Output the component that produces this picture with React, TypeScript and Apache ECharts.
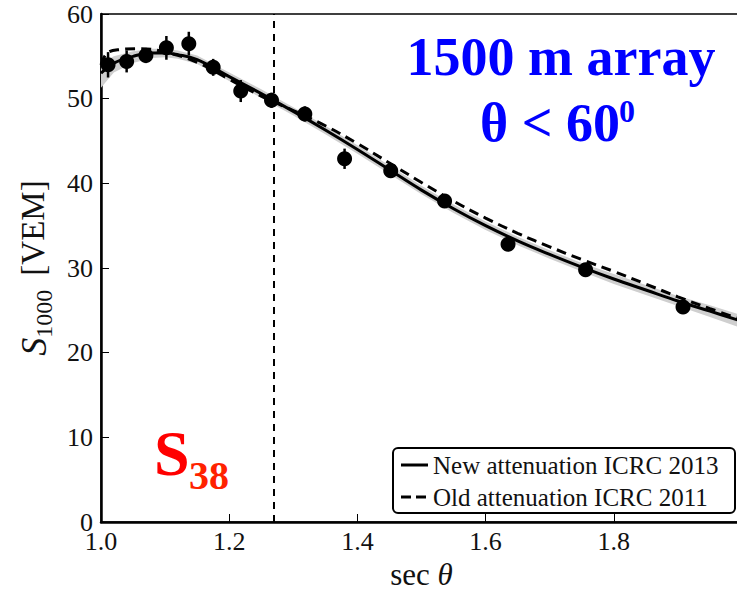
import React, { useEffect, useRef } from "react";
import * as echarts from "echarts";

// Measured points: sec(theta) vs S1000 [VEM]
const secTheta = [1.011, 1.040, 1.070, 1.102, 1.137, 1.175, 1.218, 1.266, 1.318, 1.380, 1.452, 1.536, 1.635, 1.756, 1.908];
const s1000 = [54.0, 54.4, 55.1, 56.0, 56.5, 53.7, 50.9, 49.8, 48.2, 42.9, 41.5, 37.9, 32.8, 29.8, 25.4];
const s1000Err = [1.5, 1.3, 0.9, 1.4, 1.4, 1.0, 1.3, 0.9, 0.9, 1.2, 0.7, 0.6, 0.6, 0.6, 0.6];

// New attenuation fit (ICRC 2013) with its uncertainty band
const newFitX = [1.00, 1.02, 1.05, 1.08, 1.10, 1.12, 1.15, 1.20, 1.25, 1.30, 1.35, 1.40, 1.45, 1.50, 1.55, 1.60, 1.65, 1.70, 1.75, 1.80, 1.85, 1.90, 1.95, 2.00];
const newFitY = [53.0, 54.2, 55.0, 55.4, 55.4, 55.2, 54.6, 52.6, 50.6, 48.5, 46.3, 44.0, 41.6, 39.2, 37.0, 35.0, 33.2, 31.6, 30.1, 28.7, 27.4, 26.1, 24.9, 23.7];
const bandLow = [51.3, 53.1, 54.2, 54.8, 54.9, 54.7, 54.1, 52.1, 50.1, 48.0, 45.8, 43.5, 41.1, 38.7, 36.5, 34.5, 32.7, 31.1, 29.6, 28.1, 26.8, 25.5, 24.2, 22.9];
const bandHigh = [54.2, 55.0, 55.6, 55.9, 55.9, 55.7, 55.1, 53.1, 51.1, 49.0, 46.8, 44.5, 42.1, 39.7, 37.5, 35.5, 33.7, 32.1, 30.6, 29.3, 28.0, 26.7, 25.6, 24.4];

// Old attenuation fit (ICRC 2011)
const oldFitX = [1.00, 1.01, 1.03, 1.06, 1.10, 1.15, 1.20, 1.25, 1.30, 1.35, 1.40, 1.45, 1.50, 1.55, 1.60, 1.65, 1.70, 1.75, 1.80, 1.85, 1.90, 1.95, 2.00];
const oldFitY = [54.0, 55.4, 55.8, 55.9, 55.5, 54.3, 52.3, 50.3, 48.6, 46.8, 44.7, 42.4, 40.1, 37.9, 35.9, 34.1, 32.5, 31.0, 29.6, 28.1, 26.6, 25.2, 23.9];

// Reference sec(theta) for S38
const refSecTheta = 1.269;

const legendNames = ["New attenuation ICRC 2013", "Old attenuation ICRC 2011"];

const SERIF = "'Liberation Serif', 'Times New Roman', serif";

export default function App() {
  const ref = useRef<HTMLDivElement>(null);
  useEffect(() => {
    if (!ref.current) return;
    const chart = echarts.init(ref.current, null, { renderer: "svg" });
    const zip = (xs: number[], ys: number[]) => xs.map((x, i) => [x, ys[i]]);
    const option: any = {
      animation: false,
      backgroundColor: "#ffffff",
      grid: {
        left: 101,
        top: 14,
        right: -5,
        bottom: 69,
        outerBoundsMode: "none",
        containLabel: false,
        show: true,
        borderColor: "#000",
        borderWidth: 1.5,
        backgroundColor: "transparent",
      },
      xAxis: {
        type: "value",
        min: 1,
        max: 2,
        interval: 0.2,
        axisLine: { show: true, onZero: false, lineStyle: { color: "#000", width: 2.5 } },
        axisTick: { show: true, inside: true, length: 8, lineStyle: { color: "#000", width: 1 } },
        axisLabel: {
          color: "#111",
          fontFamily: SERIF,
          fontSize: 26,
          lineHeight: 20,
          margin: 9,
          formatter: (v: number) => (v > 1.99 ? "" : v.toFixed(1)),
        },
        splitLine: { show: false },
        name: "{a|sec }{b|θ}",
        nameLocation: "middle",
        nameGap: 48,
        nameTextStyle: {
          verticalAlign: "middle",
          lineHeight: 26,
          rich: {
            a: { fontFamily: SERIF, fontSize: 31, lineHeight: 26, color: "#111" },
            b: { fontFamily: SERIF, fontSize: 31, lineHeight: 26, fontStyle: "italic", color: "#111" },
          },
        },
      },
      yAxis: {
        type: "value",
        min: 0,
        max: 60,
        interval: 10,
        axisLine: { show: true, onZero: false, lineStyle: { color: "#000", width: 2.5 } },
        axisTick: { show: true, inside: true, length: 8, lineStyle: { color: "#000", width: 1 } },
        axisLabel: { color: "#111", fontFamily: SERIF, fontSize: 26, lineHeight: 18, margin: 8 },
        splitLine: { show: false },
        name: "{s|S}{sub|1000}{v|[VEM]}",
        nameLocation: "middle",
        nameGap: 28,
        nameTextStyle: {
          rich: {
            s: { fontFamily: SERIF, fontSize: 36, fontStyle: "italic", color: "#111", verticalAlign: "top" },
            sub: { fontFamily: SERIF, fontSize: 24, color: "#111", verticalAlign: "top", padding: [16, 0, 0, 0] },
            v: { fontFamily: SERIF, fontSize: 33, color: "#111", verticalAlign: "top", padding: [0, 0, 0, 14] },
          },
        },
      },
      series: [
        {
          type: "custom",
          name: "band",
          data: newFitX.map((x, i) => [x, bandLow[i], bandHigh[i]]),
          encode: { x: 0, y: [1, 2] },
          silent: true,
          z: 1,
          renderItem: (params: any, api: any) => {
            if (params.dataIndex !== 0) return null;
            const pts: number[][] = [];
            for (let i = 0; i < newFitX.length; i++) pts.push(api.coord([newFitX[i], bandHigh[i]]));
            for (let i = newFitX.length - 1; i >= 0; i--) pts.push(api.coord([newFitX[i], bandLow[i]]));
            return {
              type: "polygon",
              shape: { points: pts },
              style: { fill: "#cfcfcf", stroke: "none" },
            };
          },
        },
        {
          type: "line",
          name: legendNames[0],
          data: zip(newFitX, newFitY),
          smooth: 0.4,
          showSymbol: false,
          symbol: "none",
          lineStyle: { color: "#000", width: 3 },
          z: 2,
        },
        {
          type: "line",
          name: legendNames[1],
          data: zip(oldFitX, oldFitY),
          smooth: 0.4,
          showSymbol: false,
          symbol: "none",
          lineStyle: { color: "#000", width: 3, type: [10, 6] },
          z: 2,
          markLine: {
            silent: true,
            symbol: ["none", "none"],
            label: { show: false },
            lineStyle: { color: "#000", width: 2, type: [7, 6] },
            data: [{ xAxis: refSecTheta }],
          },
        },
        {
          type: "custom",
          name: "errors",
          data: secTheta.map((x, i) => [x, s1000[i], s1000Err[i]]),
          encode: { x: 0, y: 1 },
          z: 3,
          renderItem: (_params: any, api: any) => {
            const x = api.value(0);
            const y = api.value(1);
            const e = api.value(2);
            const p1 = api.coord([x, y - e]);
            const p2 = api.coord([x, y + e]);
            return {
              type: "line",
              shape: { x1: p1[0], y1: p1[1], x2: p2[0], y2: p2[1] },
              style: { stroke: "#000", lineWidth: 2.5 },
            };
          },
        },
        {
          type: "scatter",
          name: "data",
          data: zip(secTheta, s1000),
          symbol: "circle",
          symbolSize: 15,
          itemStyle: { color: "#000", opacity: 1 },
          z: 4,
        },
      ],
      graphic: [
        {
          type: "text",
          x: 561,
          y: 57,
          style: {
            text: "1500 m array",
            fontFamily: SERIF,
            fontWeight: "bold",
            fontSize: 54,
            fill: "#0000ff",
            align: "center",
            verticalAlign: "middle",
          },
        },
        {
          type: "text",
          x: 550,
          y: 123,
          style: {
            text: "θ < 60",
            fontFamily: SERIF,
            fontWeight: "bold",
            fontSize: 54,
            fill: "#0000ff",
            align: "center",
            verticalAlign: "middle",
          },
        },
        {
          type: "text",
          x: 619,
          y: 111,
          style: {
            text: "0",
            fontFamily: SERIF,
            fontWeight: "bold",
            fontSize: 32,
            fill: "#0000ff",
            align: "left",
            verticalAlign: "middle",
          },
        },
        {
          type: "text",
          x: 154,
          y: 453,
          style: {
            text: "S",
            fontFamily: SERIF,
            fontWeight: "bold",
            fontSize: 64,
            fill: "#ff0000",
            align: "left",
            verticalAlign: "middle",
          },
        },
        {
          type: "text",
          x: 189,
          y: 475,
          style: {
            text: "38",
            fontFamily: SERIF,
            fontWeight: "bold",
            fontSize: 40,
            fill: "#ff2200",
            align: "left",
            verticalAlign: "middle",
          },
        },
        {
          type: "group",
          children: [
            {
              type: "rect",
              shape: { x: 393, y: 448, width: 342, height: 65, r: 5 },
              style: { fill: "#fff", stroke: "#000", lineWidth: 2 },
            },
            {
              type: "line",
              shape: { x1: 401, y1: 465, x2: 428, y2: 465 },
              style: { stroke: "#000", lineWidth: 3 },
            },
            {
              type: "line",
              shape: { x1: 401, y1: 497, x2: 431, y2: 497 },
              style: { stroke: "#000", lineWidth: 3, lineDash: [10, 5] },
            },
            {
              type: "text",
              x: 433,
              y: 465,
              style: {
                text: legendNames[0],
                fontFamily: SERIF,
                fontSize: 25,
                fill: "#111",
                align: "left",
                verticalAlign: "middle",
              },
            },
            {
              type: "text",
              x: 433,
              y: 497,
              style: {
                text: legendNames[1],
                fontFamily: SERIF,
                fontSize: 25,
                fill: "#111",
                align: "left",
                verticalAlign: "middle",
              },
            },
          ],
        },
      ],
    };
    chart.setOption(option);
    return () => chart.dispose();
  }, []);
  return (
    <div
      ref={ref}
      style={{ position: "fixed", left: 0, top: 0, width: 737, height: 591, background: "#fff" }}
    />
  );
}
